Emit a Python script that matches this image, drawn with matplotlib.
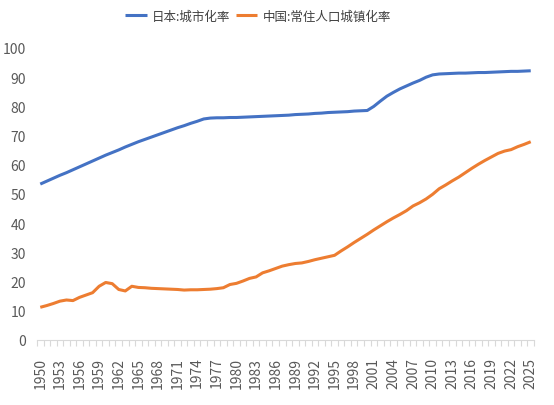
import matplotlib
matplotlib.use("Agg")
import matplotlib.pyplot as plt
from matplotlib.ticker import MultipleLocator, FixedLocator

plt.rcParams['font.family'] = ['Noto Sans CJK SC', 'DejaVu Sans']

years = list(range(1950, 2026))
japan = [53.4, 54.4, 55.4, 56.4, 57.3, 58.3, 59.3, 60.3, 61.3, 62.3,
         63.3, 64.2, 65.1, 66.1, 67.0, 67.9, 68.7, 69.5, 70.3, 71.1,
         71.9, 72.7, 73.4, 74.2, 74.9, 75.7, 76.0, 76.1, 76.1, 76.2,
         76.2, 76.3, 76.4, 76.5, 76.6, 76.7, 76.8, 76.9, 77.0, 77.2,
         77.3, 77.4, 77.6, 77.7, 77.9, 78.0, 78.1, 78.2, 78.4, 78.5,
         78.6, 80.0, 81.8, 83.5, 84.8, 86.0, 87.0, 88.0, 88.9, 90.0,
         90.8, 91.1, 91.2, 91.3, 91.4, 91.4, 91.5, 91.6, 91.6, 91.7,
         91.8, 91.9, 92.0, 92.0, 92.1, 92.2]
china = [11.2, 11.8, 12.5, 13.3, 13.7, 13.5, 14.6, 15.4, 16.2, 18.4,
         19.7, 19.3, 17.3, 16.8, 18.4, 18.0, 17.9, 17.7, 17.6, 17.5,
         17.4, 17.3, 17.1, 17.2, 17.2, 17.3, 17.4, 17.6, 17.9, 19.0,
         19.4, 20.2, 21.1, 21.6, 23.0, 23.7, 24.5, 25.3, 25.8, 26.2,
         26.4, 26.9, 27.5, 28.0, 28.5, 29.0, 30.5, 31.9, 33.4, 34.8,
         36.2, 37.7, 39.1, 40.5, 41.8, 43.0, 44.3, 45.9, 47.0, 48.3,
         49.9, 51.8, 53.1, 54.5, 55.8, 57.3, 58.8, 60.2, 61.5, 62.7,
         63.9, 64.7, 65.2, 66.2, 67.0, 67.9]
labels = ['日本:城市化率', '中国:常住人口城镇化率']
tick_years = list(range(1950, 2026, 3))

fig = plt.figure(figsize=(5.54, 4.06), dpi=100)
ax = fig.add_axes([37/554, 1-341/406, (534-37)/554, (341-49)/406])

ax.plot(years, japan, color='#4472C4', lw=2.2, label=labels[0], solid_capstyle='butt')
ax.plot(years, china, color='#ED7D31', lw=2.2, label=labels[1], solid_capstyle='butt')

ax.set_xlim(1949.5, 2025.5)
ax.set_ylim(0, 100)
ax.yaxis.set_major_locator(MultipleLocator(10))
ax.xaxis.set_major_locator(FixedLocator(tick_years))
ax.xaxis.set_minor_locator(FixedLocator([y + 0.5 for y in range(1949, 2026)]))
ax.tick_params(axis='x', which='major', length=0, labelrotation=90, labelsize=10,
               labelcolor='#595959', pad=12)
ax.tick_params(axis='x', which='minor', length=4, color='#D9D9D9', width=0.8)
ax.tick_params(axis='y', length=0, labelsize=10, labelcolor='#595959', pad=8)

for s in ['top', 'right', 'left']:
    ax.spines[s].set_visible(False)
ax.spines['bottom'].set_color('#D9D9D9')
ax.spines['bottom'].set_linewidth(0.8)

leg = fig.legend(loc='center', bbox_to_anchor=(258/554, 1-17/406), ncol=2, frameon=False,
                 fontsize=9, handlelength=1.7, columnspacing=0.4, handletextpad=0.45,
                 labelcolor='#404040')
fig.savefig('out.png', dpi=100)
